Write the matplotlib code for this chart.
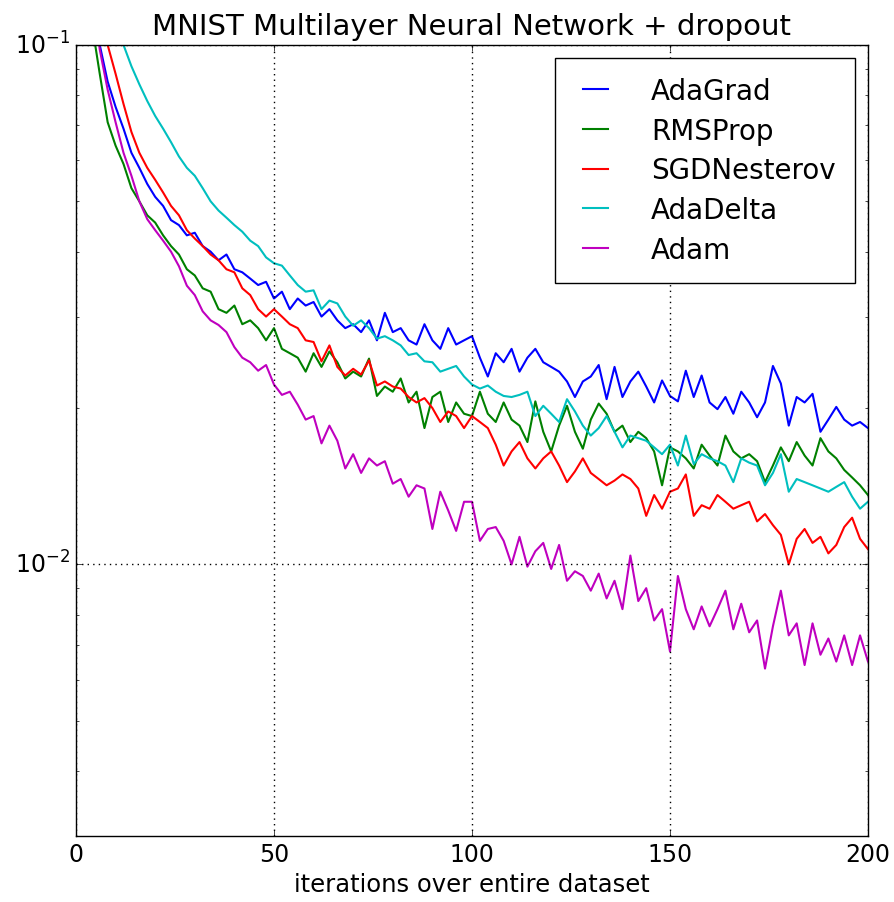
import numpy as np
import matplotlib
matplotlib.use('Agg')
import matplotlib.pyplot as plt

plt.style.use('classic')

# training cost per epoch, sampled every 2 epochs
epochs = list(range(0, 201, 2))

adagrad = [0.5, 0.25, 0.15, 0.10, 0.085, 0.076, 0.069, 0.062, 0.058, 0.054,
           0.051, 0.049, 0.046, 0.045, 0.043, 0.0435, 0.041, 0.040, 0.0385, 0.0395,
           0.037, 0.0365, 0.0355, 0.0345, 0.035, 0.0325, 0.0335, 0.031, 0.0325, 0.0315,
           0.032, 0.030, 0.031, 0.0295, 0.0285, 0.029, 0.028, 0.0295, 0.027, 0.0305,
           0.028, 0.0285, 0.027, 0.0265, 0.029, 0.027, 0.026, 0.0285, 0.0265, 0.027,
           0.0275, 0.025, 0.023, 0.0255, 0.0245, 0.026, 0.0235, 0.025, 0.026, 0.0245,
           0.024, 0.0235, 0.0225, 0.021, 0.0225, 0.023, 0.0242, 0.0208, 0.0240, 0.021,
           0.0225, 0.0235, 0.022, 0.0205, 0.0226, 0.0211, 0.0206, 0.0236, 0.021, 0.0231,
           0.0205, 0.0199, 0.021, 0.0195, 0.0215, 0.0205, 0.0192, 0.0205, 0.0241, 0.0223,
           0.0185, 0.021, 0.0205, 0.0213, 0.018, 0.019, 0.0201, 0.019, 0.0185, 0.0188,
           0.0183]

rmsprop = [0.5, 0.2, 0.11, 0.088, 0.071, 0.064, 0.059, 0.053, 0.050, 0.047,
           0.0455, 0.043, 0.041, 0.0395, 0.037, 0.036, 0.034, 0.0335, 0.031, 0.0305,
           0.0315, 0.029, 0.0295, 0.0285, 0.027, 0.0285, 0.026, 0.0255, 0.025, 0.0235,
           0.0255, 0.024, 0.0257, 0.0245, 0.0228, 0.0235, 0.023, 0.0249, 0.0211, 0.022,
           0.0215, 0.0228, 0.0205, 0.0215, 0.0183, 0.021, 0.0215, 0.0188, 0.0205, 0.0195,
           0.0193, 0.0215, 0.0195, 0.0188, 0.0205, 0.019, 0.0185, 0.0172, 0.0206, 0.018,
           0.0165, 0.0185, 0.0202, 0.018, 0.0167, 0.019, 0.0204, 0.0195, 0.018, 0.0185,
           0.0172, 0.018, 0.0175, 0.0165, 0.0142, 0.0168, 0.0165, 0.016, 0.0153, 0.017,
           0.0162, 0.0155, 0.0177, 0.0165, 0.016, 0.0163, 0.0158, 0.0144, 0.0155, 0.0168,
           0.0158, 0.0172, 0.0162, 0.0155, 0.0175, 0.0165, 0.016, 0.0152, 0.0147, 0.0142,
           0.0136]

sgd_nesterov = [0.6, 0.3, 0.16, 0.12, 0.10, 0.088, 0.077, 0.068, 0.062, 0.058,
                0.055, 0.052, 0.049, 0.047, 0.044, 0.0424, 0.041, 0.0395, 0.0385, 0.037,
                0.0365, 0.034, 0.033, 0.031, 0.030, 0.031, 0.030, 0.029, 0.0285, 0.027,
                0.0268, 0.0246, 0.0264, 0.024, 0.0231, 0.0238, 0.0232, 0.0247, 0.0221, 0.0225,
                0.022, 0.0218, 0.021, 0.0205, 0.0209, 0.020, 0.0188, 0.0197, 0.0193, 0.0183,
                0.0193, 0.0188, 0.0183, 0.017, 0.0155, 0.0165, 0.0172, 0.016, 0.0153, 0.016,
                0.0165, 0.0155, 0.0144, 0.0151, 0.016, 0.015, 0.0146, 0.0142, 0.0145, 0.0149,
                0.0146, 0.014, 0.0124, 0.0136, 0.0128, 0.0138, 0.014, 0.0149, 0.0124, 0.013,
                0.0128, 0.0136, 0.0132, 0.0128, 0.013, 0.0132, 0.0121, 0.0125, 0.0119, 0.0114,
                0.0100, 0.0112, 0.0117, 0.0110, 0.0113, 0.0105, 0.0109, 0.0118, 0.0123, 0.0112,
                0.0107]

adadelta = [1.0, 0.5, 0.25, 0.17, 0.13, 0.115, 0.10, 0.091, 0.084, 0.078,
            0.073, 0.069, 0.065, 0.061, 0.058, 0.056, 0.053, 0.050, 0.048, 0.0465,
            0.045, 0.0437, 0.042, 0.041, 0.039, 0.038, 0.0376, 0.036, 0.0345, 0.0335,
            0.0337, 0.031, 0.0322, 0.0318, 0.030, 0.0288, 0.0295, 0.0285, 0.0272, 0.0275,
            0.027, 0.0264, 0.0253, 0.0255, 0.0246, 0.0245, 0.0235, 0.0238, 0.0241, 0.023,
            0.0222, 0.0218, 0.0221, 0.0215, 0.0211, 0.021, 0.0212, 0.0215, 0.0193, 0.0202,
            0.0195, 0.0188, 0.0208, 0.0197, 0.0185, 0.0177, 0.0183, 0.0193, 0.018, 0.0168,
            0.0177, 0.0175, 0.0173, 0.0168, 0.0163, 0.017, 0.0155, 0.0177, 0.0156, 0.0163,
            0.016, 0.0158, 0.0155, 0.0144, 0.016, 0.0157, 0.0155, 0.0142, 0.015, 0.0163,
            0.0138, 0.0146, 0.0144, 0.0142, 0.014, 0.0138, 0.0141, 0.0144, 0.0135, 0.0128,
            0.0132]

adam = [0.5, 0.22, 0.13, 0.098, 0.082, 0.071, 0.062, 0.056, 0.050, 0.0462,
        0.044, 0.042, 0.040, 0.0375, 0.0344, 0.033, 0.0307, 0.0295, 0.0289, 0.028,
        0.0262, 0.025, 0.0245, 0.0236, 0.0242, 0.0222, 0.0212, 0.0215, 0.0203, 0.019,
        0.0193, 0.0171, 0.0185, 0.0173, 0.0153, 0.0163, 0.015, 0.016, 0.0155, 0.0158,
        0.0143, 0.0146, 0.0135, 0.0142, 0.014, 0.0117, 0.0138, 0.0127, 0.0116, 0.0132,
        0.0132, 0.0111, 0.0117, 0.0118, 0.0111, 0.0100, 0.0113, 0.0099, 0.0106, 0.011,
        0.0098, 0.0109, 0.0093, 0.0097, 0.0095, 0.0089, 0.0096, 0.0086, 0.0093, 0.0082,
        0.0104, 0.0085, 0.009, 0.0078, 0.0082, 0.0068, 0.0095, 0.0082, 0.0075, 0.0083,
        0.0076, 0.0082, 0.0089, 0.0075, 0.0084, 0.0074, 0.0078, 0.0063, 0.0076, 0.0089,
        0.0073, 0.0077, 0.0064, 0.0077, 0.0067, 0.0072, 0.0065, 0.0073, 0.0064, 0.0073,
        0.0065]

series = [('AdaGrad', adagrad, 'b'),
          ('RMSProp', rmsprop, 'g'),
          ('SGDNesterov', sgd_nesterov, 'r'),
          ('AdaDelta', adadelta, 'c'),
          ('Adam', adam, 'm')]

fig = plt.figure(figsize=(8.95, 9.03), dpi=100, facecolor='white')
ax = fig.add_axes([0.0849, 0.0731, 0.8849, 0.876])

for name, vals, col in series:
    ax.plot(epochs, vals, color=col, lw=1.5, label=name)

ax.set_yscale('log')
ax.set_xlim(0, 200)
ax.set_ylim(0.003, 0.1)
ax.set_xticks([0, 50, 100, 150, 200])
ax.grid(True, which='major', linestyle=':', color='k', lw=1)
ax.tick_params(labelsize=17)
ax.set_xlabel('iterations over entire dataset', fontsize=17.5)
ax.set_title('MNIST Multilayer Neural Network + dropout', fontsize=21, y=1.005)

leg = ax.legend(loc='upper right', bbox_to_anchor=(0.984, 0.984), borderaxespad=0,
                fontsize=20, handlelength=1.5, handletextpad=1.25, labelspacing=0.42,
                borderpad=0.7, fancybox=False)
leg.get_frame().set_edgecolor('black')

plt.savefig('out.png', dpi=100, facecolor='white')
